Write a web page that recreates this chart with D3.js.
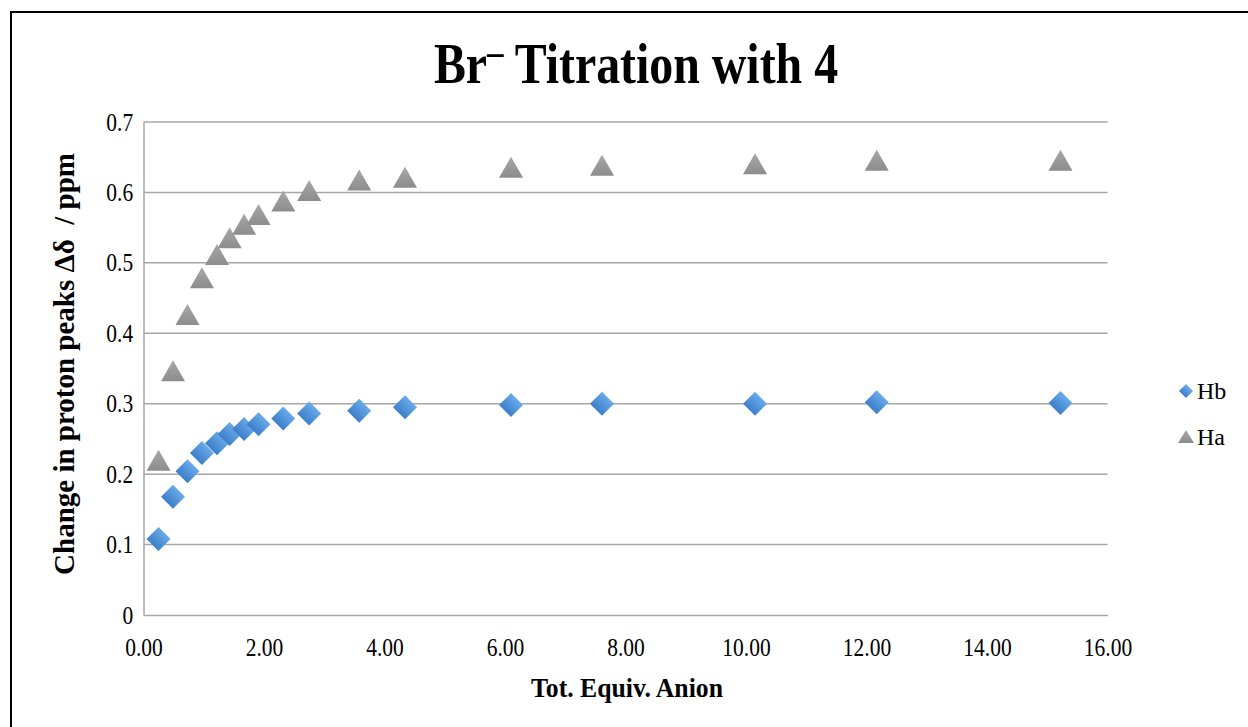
<!DOCTYPE html>
<html>
<head>
<meta charset="utf-8">
<script src="https://cdn.jsdelivr.net/npm/d3@7"></script>
<style>
  body { margin: 0; background: #fff; }
  svg { display: block; }
  text { font-family: "Liberation Serif", "Times New Roman", serif; fill: #000; }
</style>
</head>
<body>
<div id="chart"></div>
<script>
// total equivalents of anion added
var equiv = [0.25, 0.49, 0.73, 0.97, 1.22, 1.43, 1.67, 1.91, 2.32, 2.75, 3.58, 4.34, 6.10, 7.61, 10.15, 12.17, 15.22];
// change in shift for each proton
var hb = [0.108, 0.168, 0.204, 0.230, 0.244, 0.257, 0.264, 0.271, 0.279, 0.286, 0.290, 0.295, 0.298, 0.300, 0.300, 0.302, 0.301];
var ha = [0.219, 0.346, 0.426, 0.478, 0.511, 0.535, 0.554, 0.568, 0.587, 0.602, 0.617, 0.621, 0.635, 0.638, 0.640, 0.645, 0.645];
var seriesNames = ['Hb', 'Ha'];
var xTicks = [0, 2, 4, 6, 8, 10, 12, 14, 16];
var yTicks = [0, 0.1, 0.2, 0.3, 0.4, 0.5, 0.6, 0.7];

var width = 1248, height = 727;
var margin = { left: 143.5, right: 140.5, top: 122, bottom: 112 };

var svg = d3.select('#chart')
  .append('svg')
  .attr('width', width)
  .attr('height', height);

var defs = svg.append('defs');
var blue = defs.append('linearGradient').attr('id', 'blueGrad')
  .attr('x1', 0).attr('y1', 0).attr('x2', 0).attr('y2', 1);
blue.append('stop').attr('offset', '0%').attr('stop-color', '#6aaae9');
blue.append('stop').attr('offset', '100%').attr('stop-color', '#3b7fca');
var grey = defs.append('linearGradient').attr('id', 'greyGrad')
  .attr('x1', 0).attr('y1', 0).attr('x2', 0).attr('y2', 1);
grey.append('stop').attr('offset', '0%').attr('stop-color', '#a8a8a8');
grey.append('stop').attr('offset', '100%').attr('stop-color', '#8c8c8c');

// outer frame (only top/left edges fall inside the picture)
svg.append('rect')
  .attr('x', 11).attr('y', 12)
  .attr('width', 1260).attr('height', 740)
  .attr('fill', 'none')
  .attr('stroke', '#000')
  .attr('stroke-width', 2);

var x = d3.scaleLinear().domain([0, 16]).range([margin.left, width - margin.right]);
var y = d3.scaleLinear().domain([0, 0.7]).range([height - margin.bottom, margin.top]);

// gridlines
svg.append('g')
  .selectAll('line')
  .data(yTicks.slice(1))
  .enter()
  .append('line')
  .attr('x1', x(0)).attr('x2', x(16))
  .attr('y1', function(d) { return y(d); })
  .attr('y2', function(d) { return y(d); })
  .attr('stroke', '#a6a6a6')
  .attr('stroke-width', 1.5);

var xAxis = svg.append('g')
  .attr('transform', 'translate(0,' + y(0) + ')')
  .call(d3.axisBottom(x).tickValues(xTicks).tickSize(0).tickPadding(23)
    .tickFormat(function(d) { return d.toFixed(2); }));
xAxis.select('.domain').attr('stroke', '#a6a6a6').attr('stroke-width', 1.5);
xAxis.selectAll('text')
  .attr('font-size', 25)
  .attr('transform', 'scale(0.86,1)')
  .style('font-family', '"Liberation Serif", serif');

var yAxis = svg.append('g')
  .attr('transform', 'translate(' + x(0) + ',0)')
  .call(d3.axisLeft(y).tickValues(yTicks).tickSize(0).tickPadding(12)
    .tickFormat(function(d) { return d === 0 ? '0' : d.toFixed(1); }));
yAxis.select('.domain').attr('stroke', '#a6a6a6').attr('stroke-width', 1.5);
yAxis.selectAll('text')
  .attr('font-size', 25)
  .attr('transform', 'scale(0.86,1)')
  .style('font-family', '"Liberation Serif", serif');

var diamond = d3.symbol().type(d3.symbolSquare).size(288);
var triangle = 'M0,-11L12,10L-12,10Z';

var hbData = equiv.map(function(e, i) { return [e, hb[i]]; });
var haData = equiv.map(function(e, i) { return [e, ha[i]]; });

svg.append('g')
  .selectAll('path')
  .data(haData)
  .enter()
  .append('path')
  .attr('d', triangle)
  .attr('transform', function(d) { return 'translate(' + x(d[0]) + ',' + y(d[1]) + ')'; })
  .attr('fill', 'url(#greyGrad)');

svg.append('g')
  .selectAll('path')
  .data(hbData)
  .enter()
  .append('path')
  .attr('d', diamond)
  .attr('transform', function(d) { return 'translate(' + x(d[0]) + ',' + y(d[1]) + ') rotate(45)'; })
  .attr('fill', 'url(#blueGrad)');

// title
var title = svg.append('text')
  .attr('x', 0).attr('y', 0)
  .attr('text-anchor', 'middle')
  .attr('font-weight', 'bold')
  .attr('font-size', 58)
  .attr('transform', 'translate(636,83) scale(0.825,1)');
title.append('tspan').text('Br');
title.append('tspan').attr('dy', -18).attr('font-size', 40).text('\u2013');
title.append('tspan').attr('dy', 18).text(' Titration with 4');

// axis titles
svg.append('text')
  .attr('text-anchor', 'middle')
  .attr('font-weight', 'bold')
  .attr('font-size', 26.5)
  .attr('transform', 'translate(627,697) scale(0.97,1)')
  .text('Tot. Equiv. Anion');

svg.append('text')
  .attr('text-anchor', 'middle')
  .attr('font-weight', 'bold')
  .attr('font-size', 29)
  .attr('transform', 'translate(74,364) rotate(-90)')
  .text('Change in proton peaks \u0394\u03b4 \u00a0/ ppm');

// legend
var legend = svg.selectAll('.legend')
  .data(seriesNames)
  .enter()
  .append('g')
  .attr('class', 'legend')
  .attr('transform', function(d, i) { return 'translate(1186,' + (391 + i * 46) + ')'; });

legend.append('path')
  .attr('d', function(d) {
    return d === 'Hb'
      ? d3.symbol().type(d3.symbolSquare).size(98)()
      : 'M0,-7L8,6L-8,6Z';
  })
  .attr('transform', function(d) { return d === 'Hb' ? 'rotate(45)' : ''; })
  .attr('fill', function(d) { return d === 'Hb' ? 'url(#blueGrad)' : 'url(#greyGrad)'; });

legend.append('text')
  .attr('x', 11)
  .attr('y', 8)
  .attr('font-size', 24)
  .text(function(d) { return d; });
</script>
</body>
</html>
